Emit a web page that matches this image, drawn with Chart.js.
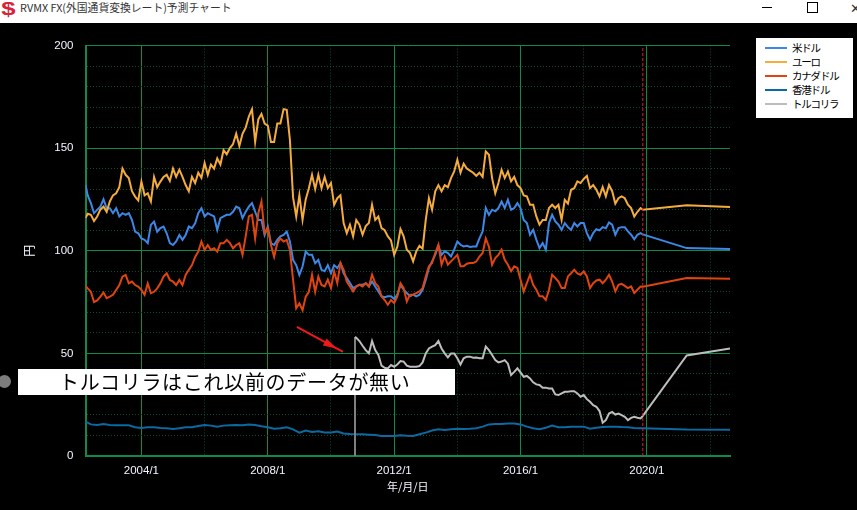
<!DOCTYPE html>
<html lang="ja">

<head>
  <meta charset="UTF-8">
  <title>RVMX FX(外国通貨変換レート)予測チャート</title>
  <script src="https://cdn.jsdelivr.net/npm/chart.js"></script>
  <style>
    body { margin: 0; background: #000; width: 857px; height: 510px; overflow: hidden; position: relative; font-family: "Noto Sans CJK JP", sans-serif; }
    .titlebar { position: absolute; left: 0; top: 0; width: 857px; height: 23px; background: #fff; color: #333; font-size: 10.8px; line-height: 15px; }
    .titlebar .icon { position: absolute; left: 3px; top: -3px; color: #d9213a; font: bold 19px/24px "Liberation Sans"; transform: scaleX(1.35); }
    .titlebar .text { position: absolute; left: 20px; top: 0; white-space: nowrap; }
    .titlebar .min { position: absolute; left: 762px; top: 7px; width: 10px; height: 1px; background: #000; }
    .titlebar .max { position: absolute; left: 807px; top: 2px; width: 9px; height: 9px; border: 1px solid #000; }
    .titlebar .close { position: absolute; left: 850px; top: 0; font-size: 13px; color: #333; }
    canvas { position: absolute; left: 0; top: 23px; }
    #legendBox { position: absolute; left: 756px; top: 38px; width: 97px; height: 80px; background: #fff; color: #000; font-size: 10.5px; letter-spacing: -1.2px; }
    #legendBox div { position: absolute; left: 36px; line-height: 14px; white-space: nowrap; }
    #legendBox i { position: absolute; left: 9px; width: 22px; height: 2px; }
    .note { position: absolute; left: 18px; top: 369px; width: 437px; height: 26px; background: #fff; color: #000; font-size: 20px; line-height: 26px; letter-spacing: 0.7px; text-indent: 41px; white-space: nowrap; }
    .dot { position: absolute; left: -2px; top: 375px; width: 13px; height: 13px; border-radius: 50%; background: #7d7d7d; }
  </style>
</head>

<body>
  <div class="titlebar">
    <span class="icon">$</span>
    <span class="text">RVMX FX(外国通貨変換レート)予測チャート</span>
    <span class="min"></span><span class="max"></span><span class="close">✕</span>
  </div>
  <canvas id="grafico" width="857" height="487"></canvas>
  <div id="legendBox"></div>
  <div class="dot"></div>
  <div class="note">トルコリラはこれ以前のデータが無い</div>

  <script>
    // decimal years, last three are the forecast part
    const dates = [
      2002.23, 2002.3, 2002.4, 2002.5, 2002.6, 2002.7, 2002.8, 2002.9, 2003.0, 2003.1,
      2003.2, 2003.3, 2003.4, 2003.5, 2003.6, 2003.7, 2003.8, 2003.9, 2004.0, 2004.1,
      2004.2, 2004.3, 2004.4, 2004.5, 2004.6, 2004.7, 2004.8, 2004.9, 2005.0, 2005.1,
      2005.2, 2005.3, 2005.4, 2005.5, 2005.6, 2005.7, 2005.8, 2005.9, 2006.0, 2006.1,
      2006.2, 2006.3, 2006.4, 2006.5, 2006.6, 2006.7, 2006.8, 2006.9, 2007.0, 2007.1,
      2007.2, 2007.3, 2007.4, 2007.5, 2007.6, 2007.7, 2007.8, 2007.9, 2008.0, 2008.1,
      2008.2, 2008.3, 2008.4, 2008.5, 2008.6, 2008.7, 2008.8, 2008.9, 2009.0, 2009.1,
      2009.2, 2009.3, 2009.4, 2009.5, 2009.6, 2009.7, 2009.8, 2009.9, 2010.0, 2010.1,
      2010.2, 2010.3, 2010.4, 2010.5, 2010.6, 2010.7, 2010.8, 2010.9, 2011.0, 2011.1,
      2011.2, 2011.3, 2011.4, 2011.5, 2011.6, 2011.7, 2011.8, 2011.9, 2012.0, 2012.1,
      2012.2, 2012.3, 2012.4, 2012.5, 2012.6, 2012.7, 2012.8, 2012.9, 2013.0, 2013.1,
      2013.2, 2013.3, 2013.4, 2013.5, 2013.6, 2013.7, 2013.8, 2013.9, 2014.0, 2014.1,
      2014.2, 2014.3, 2014.4, 2014.5, 2014.6, 2014.7, 2014.8, 2014.9, 2015.0, 2015.1,
      2015.2, 2015.3, 2015.4, 2015.5, 2015.6, 2015.7, 2015.8, 2015.9, 2016.0, 2016.1,
      2016.2, 2016.3, 2016.4, 2016.5, 2016.6, 2016.7, 2016.8, 2016.9, 2017.0, 2017.1,
      2017.2, 2017.3, 2017.4, 2017.5, 2017.6, 2017.7, 2017.8, 2017.9, 2018.0, 2018.1,
      2018.2, 2018.3, 2018.4, 2018.5, 2018.6, 2018.7, 2018.8, 2018.9, 2019.0, 2019.1,
      2019.2, 2019.3, 2019.4, 2019.5, 2019.6, 2019.7, 2019.8,
      2019.87, 2021.26, 2022.63
    ]

    const usd = [
      132.1, 127, 123.2, 118.3, 119.9, 121.5, 125.1, 120.7, 120.7, 118.3,
      120.7, 116.7, 118.3, 117.5, 118.3, 115, 109.3, 108.5, 106, 105.3,
      103.7, 112.6, 114.2, 109.3, 111, 111.8, 108.5, 103.7, 102.8, 104.5,
      107.7, 105.3, 107.7, 111.8, 111, 113.4, 118.3, 120.7, 116.7, 118.3,
      117.5, 116.7, 110.2, 115.9, 116.7, 117.5, 117.5, 119, 121.5, 120.7,
      115.9, 119, 121.5, 123.2, 119, 115, 115, 107.7, 111.8, 103.7,
      102.8, 105.3, 107, 107.7, 109.3, 104.5, 95.5, 93, 88.2, 92.3,
      99.6, 98, 98, 93.9, 95.5, 90.7, 90, 93, 89, 93,
      91.6, 94, 89, 86.7, 84.3, 81.8, 82.6, 83.4, 83.4, 84.2,
      82.6, 85, 82.6, 80.2, 77.8, 77.4, 77.8, 77.8, 76.5, 78.6,
      83.4, 81, 79.4, 77.8, 78.6, 77.8, 78.6, 81, 85.9, 91.6,
      94.8, 98, 102.4, 98, 99.7, 98.9, 97.2, 100.5, 104.5, 102.9,
      102.1, 102.4, 101.8, 102.1, 102.1, 106, 109.4, 120.8, 117.5, 120,
      119.2, 120.8, 124, 120.8, 124.8, 120, 120.8, 123.2, 120.8, 115,
      113.5, 107.8, 110.2, 105.4, 101.3, 103.7, 100.5, 113.5, 117.5, 114.3,
      112.7, 110.2, 113.5, 111.5, 110.2, 113.5, 111.8, 113.5, 113.5, 108.6,
      105.4, 108.6, 110.5, 109.9, 111.5, 111, 113.8, 112.7, 107.8, 111,
      111.5, 111.5, 109.4, 107.8, 105.6, 107.8, 108.6,
      108, 101.3, 100.8
    ]

    const eur = [
      115.9, 118, 117.5, 114.5, 116.7, 120, 121.5, 119, 124, 127,
      128, 131, 140, 137, 135.4, 129, 126.4, 124.5, 133.7, 127,
      128, 124, 136, 131, 133.7, 136, 137, 134, 140, 136,
      139.5, 136, 132, 129, 136, 133, 138, 135.5, 142.7, 137,
      142, 140, 145, 142, 149, 147, 150, 152, 157, 151,
      157, 160, 165.4, 169, 153, 164, 166.7, 162, 161, 153,
      153, 162, 162, 169, 168.7, 154, 126, 116.7, 127, 115,
      125, 130.5, 137, 130, 137, 130.5, 136, 130.5, 133, 122.4,
      125.6, 127, 113.5, 108.6, 112.7, 107, 115, 112.7, 107.8, 112,
      113.5, 122.4, 115, 116.7, 111, 110, 107, 105, 98, 102,
      110.5, 107, 100.5, 99, 94.8, 99.7, 102.4, 101, 115, 125.6,
      120, 129, 132, 129, 132, 131, 135.4, 138.6, 144.3, 138,
      142.4, 140, 139, 138, 136.5, 138, 136, 148.4, 146.8, 135.4,
      128, 133, 139.4, 135.4, 138.6, 133.8, 136, 132, 130.5, 127,
      126.5, 122.4, 122.4, 116.7, 112.7, 115, 115, 120.8, 122.4, 120.8,
      122.4, 115, 124.8, 123, 129.7, 130.5, 133.8, 133, 135, 136.5,
      130.5, 132, 129.7, 126.5, 131, 126.5, 132, 129, 123, 125.6,
      126.5, 125.6, 122.4, 120.8, 116.7, 119, 120.8,
      120, 122.2, 121.3
    ]

    const cad = [
      82.9, 81.7, 80, 75, 75.8, 77.6, 79.6, 76.9, 77.6, 78.5,
      80.9, 83.3, 87.4, 88.2, 84.1, 85, 83.3, 82.5, 80.9, 78.5,
      84.1, 79.3, 80, 81.7, 84.1, 87.4, 89, 85.8, 85, 83.3,
      85.8, 83.3, 88.2, 90.7, 93, 97, 99.6, 104.5, 100.4, 102.8,
      100.4, 101.2, 99.6, 103.7, 103.7, 105.3, 103.7, 101.2, 102.8, 103.7,
      98, 107, 116.7, 117.5, 106, 118.3, 124, 108.5, 111, 102.8,
      97, 103.7, 106, 104.5, 105.3, 100.4, 85.8, 72, 74.4, 71,
      77.6, 80, 88.2, 80, 87.4, 83.3, 82.6, 85.9, 81.8, 89.9,
      84.3, 94, 90.7, 85, 82.6, 80.2, 82.6, 83.4, 82.6, 84.2,
      82.6, 88.3, 84.2, 82.6, 77.8, 76, 73.7, 76, 74.5, 77.8,
      84.2, 81.8, 75.3, 78.6, 78.6, 79.4, 80.2, 81.8, 87.5, 92.4,
      94, 98.9, 103, 93.2, 97.2, 93.2, 94.8, 96.4, 98, 92.4,
      92.4, 93.7, 94, 94, 94.8, 97.2, 98.9, 106, 102, 93.2,
      96.4, 98, 100.5, 95.6, 93.2, 90, 92.4, 91.6, 86, 80.2,
      84.2, 88.3, 83.4, 81, 77.8, 77.8, 76, 81, 88.3, 86.7,
      85, 81.8, 81.8, 87.5, 89, 90.7, 89, 88.3, 89.9, 87.5,
      81.8, 84.2, 85.5, 85.9, 84.2, 85.9, 88.3, 85, 80.2, 83.4,
      83.9, 82.9, 81.8, 82.6, 79.4, 81, 82.6,
      82.5, 86.7, 86.4
    ]

    // the hong kong dollar moves slowly, a coarser step is enough
    const hkdDates = [
      2002.23, 2002.4, 2002.6, 2002.8, 2003.0, 2003.2, 2003.4, 2003.6, 2003.8, 2004.0,
      2004.2, 2004.4, 2004.6, 2004.8, 2005.0, 2005.2, 2005.4, 2005.6, 2005.8, 2006.0,
      2006.2, 2006.4, 2006.6, 2006.8, 2007.0, 2007.2, 2007.4, 2007.6, 2007.8, 2008.0,
      2008.2, 2008.4, 2008.6, 2008.8, 2009.0, 2009.2, 2009.4, 2009.6, 2009.8, 2010.0,
      2010.2, 2010.4, 2010.6, 2010.8, 2011.0, 2011.2, 2011.4, 2011.6, 2011.8, 2012.0,
      2012.2, 2012.4, 2012.6, 2012.8, 2013.0, 2013.2, 2013.4, 2013.6, 2013.8, 2014.0,
      2014.2, 2014.4, 2014.6, 2014.8, 2015.0, 2015.2, 2015.4, 2015.6, 2015.8, 2016.0,
      2016.2, 2016.4, 2016.6, 2016.8, 2017.0, 2017.2, 2017.4, 2017.6, 2017.8, 2018.0,
      2018.2, 2018.4, 2018.6, 2018.8, 2019.0, 2019.2, 2019.4, 2019.6, 2019.8,
      2019.87, 2021.26, 2022.63
    ]
    const hkd = [
      16.7, 15.4, 15.1, 15.6, 15.1, 15, 15, 15, 14, 13.7,
      14, 14, 13.7, 13.5, 13.2, 13.5, 14, 14, 14.6, 15.1,
      14.8, 14.3, 14.8, 15, 15.1, 15, 15.3, 15.1, 14.5, 14,
      13.3, 13.5, 14, 13, 11.4, 12.4, 11.7, 12, 11.4, 11.4,
      11.9, 11, 10.7, 10.6, 10.6, 10.4, 10.2, 9.8, 9.8, 9.8,
      10.1, 9.9, 9.8, 10.6, 11.4, 12.4, 13, 12.7, 13, 13.3,
      13.2, 13.3, 13.5, 14.3, 15.4, 15.6, 15.6, 15.8, 15.8, 15.4,
      14.3, 13.5, 13, 13.8, 14.8, 14, 14, 14.3, 14.3, 14.3,
      13.3, 13.8, 14.1, 14.3, 14.3, 14.1, 14, 13.7, 13.5,
      13.5, 12.9, 12.8
    ]

    // the lira only starts in late 2010
    const tryDates = [
      2010.74, 2010.76,
      2010.8, 2010.9, 2011.0, 2011.1, 2011.2, 2011.3, 2011.4, 2011.5, 2011.6, 2011.7,
      2011.8, 2011.9, 2012.0, 2012.1, 2012.2, 2012.3, 2012.4, 2012.5, 2012.6, 2012.7,
      2012.8, 2012.9, 2013.0, 2013.1, 2013.2, 2013.3, 2013.4, 2013.5, 2013.6, 2013.7,
      2013.8, 2013.9, 2014.0, 2014.1, 2014.2, 2014.3, 2014.4, 2014.5, 2014.6, 2014.7,
      2014.8, 2014.9, 2015.0, 2015.1, 2015.2, 2015.3, 2015.4, 2015.5, 2015.6, 2015.7,
      2015.8, 2015.9, 2016.0, 2016.1, 2016.2, 2016.3, 2016.4, 2016.5, 2016.6, 2016.7,
      2016.8, 2016.9, 2017.0, 2017.1, 2017.2, 2017.3, 2017.4, 2017.5, 2017.6, 2017.7,
      2017.8, 2017.9, 2018.0, 2018.1, 2018.2, 2018.3, 2018.4, 2018.5, 2018.6, 2018.7,
      2018.8, 2018.9, 2019.0, 2019.1, 2019.2, 2019.3, 2019.4, 2019.5, 2019.6, 2019.7,
      2019.8,
      2019.87, 2021.26, 2022.63
    ]
    const tryl = [
      0, 58,
      57.6, 56, 53.7, 51.6, 50, 56, 51.6, 49.2, 44, 43,
      42.7, 44.3, 43.5, 44.6, 46.3, 46, 44, 43.5, 43.5, 43.5,
      43.8, 45.6, 50, 52.4, 53.3, 54, 56, 52.4, 50, 48,
      50, 50, 47.6, 44.6, 47.6, 48.4, 48.4, 47.9, 48, 47.6,
      47.6, 53.3, 51.6, 49.2, 46.7, 45.6, 46, 46.7, 45, 39.4,
      41, 42.7, 40.7, 38.6, 39, 37.8, 35.9, 34.9, 34.6, 33.3,
      33.3, 32.9, 32.9, 30, 29.7, 30.5, 31.3, 31.3, 31.6, 31.6,
      30.5, 28.9, 29.7, 27.7, 26.4, 24.8, 24, 21.9, 16.2, 17.5,
      20.7, 21.5, 20.2, 20.7, 19.9, 19.1, 17.5, 18.6, 19.1, 18.6,
      18.3,
      19.6, 49, 52.4
    ]

    const legendLabels = ['米ドル', 'ユーロ', 'カナダドル', '香港ドル', 'トルコリラ']
    const legendColors = ['#3d87e6', '#f5ac3c', '#e0440f', '#0a6aa1', '#bdbdbd']

    const tickYears = [2004, 2006, 2008, 2010, 2012, 2014, 2016, 2018, 2020, 2022]
    const forecastStart = 2019.87
    const arrowFrom = [2008.92, 62.9]
    const arrowTo = [2010.38, 50.7]

    function pontos(xs, ys) {
      return ys.map((v, i) => ({ x: xs[i], y: v }))
    }

    function serie(i, xs, ys) {
      return {
        label: legendLabels[i],
        data: pontos(xs, ys),
        borderColor: legendColors[i],
        borderWidth: 2,
        pointRadius: 0,
        tension: 0,
        order: 10 - i
      }
    }

    const arrowPlugin = {
      id: 'redArrow',
      afterDatasetsDraw(chart) {
        const { ctx, scales: { x, y } } = chart
        const x0 = x.getPixelForValue(arrowFrom[0]), y0 = y.getPixelForValue(arrowFrom[1])
        const x1 = x.getPixelForValue(arrowTo[0]), y1 = y.getPixelForValue(arrowTo[1])
        const a = Math.atan2(y1 - y0, x1 - x0)
        const hx = x0 + (x1 - x0) * 0.86, hy = y0 + (y1 - y0) * 0.86
        ctx.save()
        ctx.strokeStyle = ctx.fillStyle = '#f01818'
        ctx.lineWidth = 2
        ctx.beginPath(); ctx.moveTo(x0, y0); ctx.lineTo(x1, y1); ctx.stroke()
        ctx.beginPath()
        ctx.moveTo(hx, hy)
        ctx.lineTo(hx - 14 * Math.cos(a - 0.28), hy - 14 * Math.sin(a - 0.28))
        ctx.lineTo(hx - 14 * Math.cos(a + 0.28), hy - 14 * Math.sin(a + 0.28))
        ctx.fill()
        ctx.restore()
      }
    }

    const GREEN = '#0f8a4c', GREEN_DIM = '#0b4f2c'

    // first lira segment (the jump from 0) is darker in the original
    const liraSerie = serie(4, tryDates, tryl)
    liraSerie.segment = { borderColor: (c) => c.p0DataIndex === 0 ? '#7f7f7f' : undefined }

    new Chart(document.getElementById('grafico'), {
      type: 'line',
      data: {
        datasets: [
          serie(0, dates, usd),
          serie(1, dates, eur),
          serie(2, dates, cad),
          serie(3, hkdDates, hkd),
          liraSerie,
          {
            label: '予測開始',
            data: pontos([forecastStart, forecastStart], [0, 200]),
            borderColor: '#e8182c',
            borderWidth: 1,
            borderDash: [3, 2],
            pointRadius: 0,
            order: 0
          }
        ]
      },
      options: {
        responsive: false,
        animation: false,
        layout: { padding: { top: 22.5, right: 127, left: 0, bottom: 0 } },
        plugins: { legend: { display: false }, tooltip: { enabled: false } },
        scales: {
          x: {
            type: 'linear',
            bounds: 'data',
            min: 2002.23,
            max: 2022.63,
            afterBuildTicks: (axis) => { axis.ticks = tickYears.map(v => ({ value: v })) },
            afterFit: (axis) => { axis.height = 54 },
            ticks: {
              autoSkip: false,
              maxRotation: 0,
              color: '#f2f6ff',
              padding: 8,
              font: { family: 'Liberation Sans', size: 11.5 },
              callback: (v) => v % 4 === 0 ? v + '/1' : ''
            },
            grid: {
              drawTicks: false,
              lineWidth: 1,
              color: (c) => c.tick && c.tick.value % 4 === 0 ? GREEN : GREEN_DIM
            },
            border: {
              color: GREEN,
              width: 2,
              dash: (c) => c.tick && c.tick.value % 4 !== 0 ? [1, 2] : []
            },
            title: {
              display: true,
              text: '年/月/日',
              color: '#f2f6ff',
              font: { family: 'Noto Sans CJK JP', size: 11 },
              padding: { top: 0, bottom: 17 }
            }
          },
          y: {
            min: 0,
            max: 200,
            afterFit: (axis) => { axis.width = 85.5 },
            ticks: {
              stepSize: 10,
              autoSkip: false,
              color: '#f2f6ff',
              padding: 12,
              font: { family: 'Liberation Sans', size: 11.5 },
              callback: (v) => v % 50 === 0 ? v : ''
            },
            grid: {
              drawTicks: false,
              lineWidth: 1,
              color: (c) => c.tick && c.tick.value % 50 === 0 ? GREEN : GREEN_DIM
            },
            border: {
              color: GREEN,
              width: 2,
              dash: (c) => c.tick && c.tick.value % 50 !== 0 ? [1, 2] : []
            },
            title: {
              display: true,
              text: '円',
              color: '#f2f6ff',
              font: { family: 'Noto Sans CJK JP', size: 12 },
              padding: { top: 22, bottom: 0 }
            }
          }
        }
      },
      plugins: [arrowPlugin]
    })

    const legendBox = document.getElementById('legendBox')
    legendLabels.forEach((nome, i) => {
      const linha = document.createElement('i')
      linha.style.top = (9 + i * 14) + 'px'
      linha.style.background = legendColors[i]
      const texto = document.createElement('div')
      texto.style.top = (3 + i * 14) + 'px'
      texto.textContent = nome
      legendBox.append(linha, texto)
    })
  </script>
</body>

</html>
